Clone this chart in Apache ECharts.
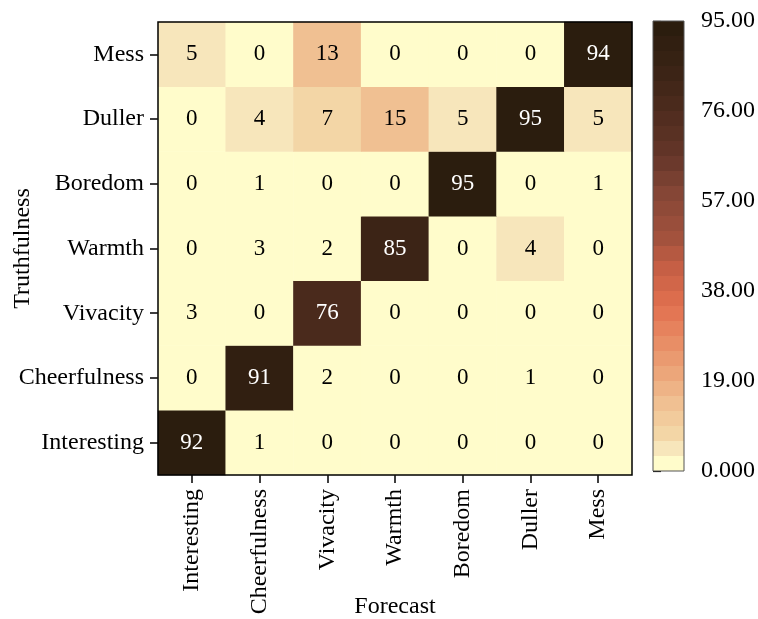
<!DOCTYPE html>
<html>
<head>
<meta charset="utf-8">
<script src="https://cdn.jsdelivr.net/npm/echarts@6/dist/echarts.min.js"></script>
<style>
  html, body { margin: 0; padding: 0; background: #fff; }
  #chart { width: 758px; height: 619px; }
</style>
</head>
<body>
<div id="chart"></div>
<script>
// Class names for both axes (bottom-to-top on y, left-to-right on x)
const classes = ['Interesting', 'Cheerfulness', 'Vivacity', 'Warmth', 'Boredom', 'Duller', 'Mess'];

// Confusion counts, one array per true class (columns follow `classes`)
const rowInteresting  = [92, 1, 0, 0, 0, 0, 0];
const rowCheerfulness = [0, 91, 2, 0, 0, 1, 0];
const rowVivacity     = [3, 0, 76, 0, 0, 0, 0];
const rowWarmth       = [0, 3, 2, 85, 0, 4, 0];
const rowBoredom      = [0, 1, 0, 0, 95, 0, 1];
const rowDuller       = [0, 4, 7, 15, 5, 95, 5];
const rowMess         = [5, 0, 13, 0, 0, 0, 94];

// Colour bar range and its tick values
const colorMin = 0;
const colorMax = 95;
const colorTicks = [0, 19, 38, 57, 76, 95];
const bandCount = 30;

const rows = [rowInteresting, rowCheerfulness, rowVivacity, rowWarmth, rowBoredom, rowDuller, rowMess];

// Colour ramp anchors (band index -> colour), pale yellow through orange-red to dark brown
const rampStops = [
  [0, '#fffccb'], [1, '#f7e6bb'], [2, '#f3d6a6'], [4, '#f0c092'], [6, '#eca67a'],
  [8, '#e88e66'], [10.5, '#e2704f'], [13, '#c65f45'], [15, '#a3523d'], [18, '#854636'],
  [20.5, '#653629'], [24, '#4a2a1c'], [26, '#3c2416'], [29, '#2b1d0e']
];
function hexToRgb(h) { return [1, 3, 5].map(i => parseInt(h.substr(i, 2), 16)); }
function rampColor(b) {
  for (let i = 1; i < rampStops.length; i++) {
    const [b0, c0] = rampStops[i - 1], [b1, c1] = rampStops[i];
    if (b <= b1) {
      const t = (b - b0) / (b1 - b0);
      const a = hexToRgb(c0), c = hexToRgb(c1);
      return 'rgb(' + a.map((x, k) => Math.round(x + (c[k] - x) * t)).join(',') + ')';
    }
  }
  return rampStops[rampStops.length - 1][1];
}
const bandWidth = (colorMax - colorMin) / bandCount;
const pieces = [];
for (let i = 0; i < bandCount; i++) {
  const lo = colorMin + i * bandWidth;
  const p = { gte: lo, color: rampColor(i) };
  if (i < bandCount - 1) p.lt = lo + bandWidth; else p.lte = colorMax;
  pieces.push(p);
}

const cells = [];
rows.forEach((row, y) => row.forEach((v, x) => {
  cells.push({ value: [x, y, v], label: { color: v > 50 ? '#ffffff' : '#000000' } });
}));

const font = 'Liberation Serif';
const plot = { left: 158, top: 22, width: 474, height: 453 };
const bandPx = 15;
const bar = { left: 653, top: 21, width: 31, height: bandPx * bandCount };

const chart = echarts.init(document.getElementById('chart'));
chart.setOption({
  animation: false,
  backgroundColor: '#ffffff',
  textStyle: { fontFamily: font },
  grid: [
    { left: plot.left, top: plot.top, width: plot.width, height: plot.height, outerBoundsMode: 'none',
      show: true, borderColor: '#000', borderWidth: 1.5, backgroundColor: 'transparent', z: 6 },
    { left: bar.left, top: bar.top, width: bar.width, height: bar.height, outerBoundsMode: 'none',
      show: true, borderColor: '#555', borderWidth: 1, backgroundColor: 'transparent', z: 6 }
  ],
  xAxis: [
    {
      type: 'category', gridIndex: 0, data: classes,
      name: 'Forecast', nameLocation: 'middle', nameGap: 120, nameMoveOverlap: false,
      nameTextStyle: { fontFamily: font, fontSize: 24, color: '#000', verticalAlign: 'top' },
      axisLine: { show: false },
      axisTick: { show: true, alignWithLabel: true, length: 8, lineStyle: { color: '#000', width: 1.5 } },
      axisLabel: { rotate: 90, fontFamily: font, fontSize: 24, color: '#000', margin: 14, interval: 0 },
      splitLine: { show: false }, splitArea: { show: false }
    },
    { type: 'value', gridIndex: 1, show: false, min: 0, max: 1 }
  ],
  yAxis: [
    {
      type: 'category', gridIndex: 0, data: classes,
      name: 'Truthfulness', nameLocation: 'middle', nameGap: 123, nameRotate: 90, nameMoveOverlap: false,
      nameTextStyle: { fontFamily: font, fontSize: 24, color: '#000', verticalAlign: 'bottom' },
      axisLine: { show: false },
      axisTick: { show: true, alignWithLabel: true, length: 8, lineStyle: { color: '#000', width: 1.5 } },
      axisLabel: { fontFamily: font, fontSize: 24, color: '#000', margin: 14, interval: 0 },
      splitLine: { show: false }, splitArea: { show: false }
    },
    {
      type: 'value', gridIndex: 1, position: 'right', min: colorMin, max: colorMax, interval: 19,
      axisLine: { show: false },
      axisTick: { show: true, length: 8, lineStyle: { color: '#000', width: 1.2 } },
      axisLabel: {
        fontFamily: font, fontSize: 24, color: '#000', margin: 17,
        formatter: v => colorTicks.includes(v) ? (v === 0 ? '0.000' : v.toFixed(2)) : ''
      },
      splitLine: { show: false }
    }
  ],
  visualMap: {
    type: 'piecewise',
    seriesIndex: 0,
    dimension: 2,
    pieces: pieces,
    orient: 'vertical',
    left: bar.left, top: bar.top,
    padding: 0,
    itemWidth: bar.width, itemHeight: bandPx, itemGap: 0,
    itemSymbol: 'rect',
    showLabel: false,
    selectedMode: false,
    hoverLink: false,
    z: 3
  },
  series: [{
    type: 'heatmap',
    xAxisIndex: 0, yAxisIndex: 0,
    data: cells,
    label: { show: true, fontFamily: font, fontSize: 23 },
    itemStyle: { borderWidth: 0 },
    emphasis: { disabled: true }
  }]
});
</script>
</body>
</html>
